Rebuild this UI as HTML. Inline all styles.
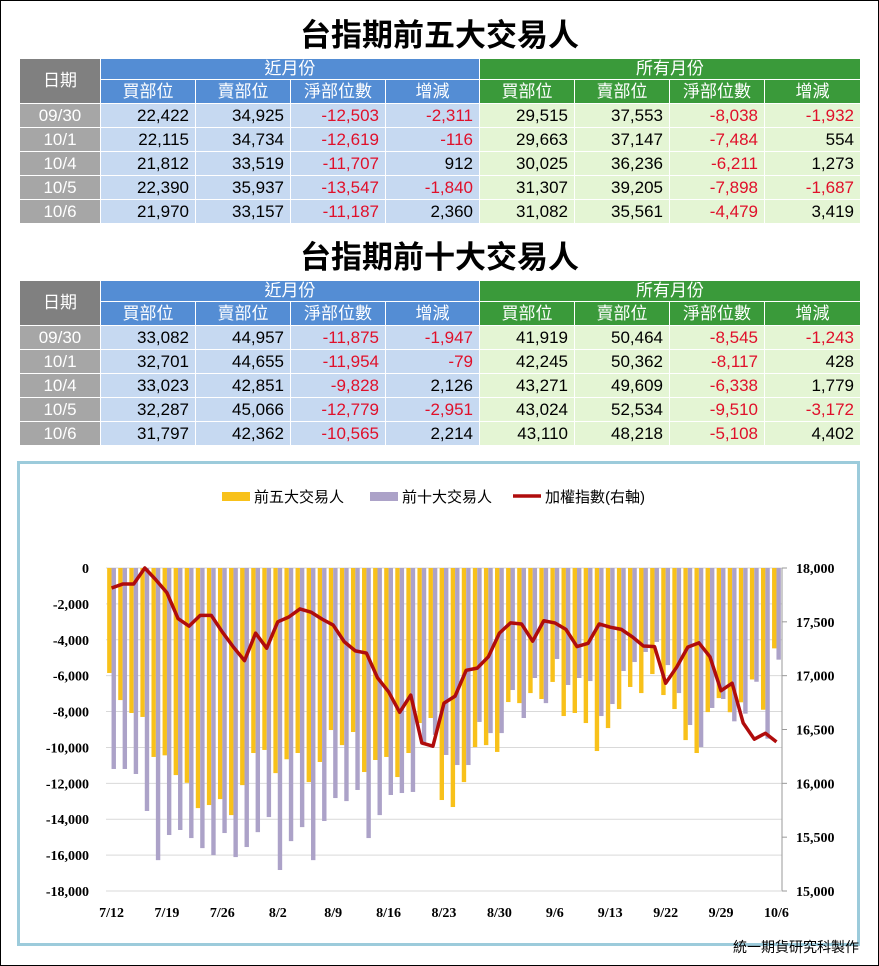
<!DOCTYPE html>
<html><head><meta charset="utf-8">
<style>
*{box-sizing:border-box;margin:0;padding:0}
body{width:879px;height:966px;background:#fff;font-family:"Liberation Sans","Noto Sans CJK TC",sans-serif;position:relative;overflow:hidden}
#frame{position:absolute;left:0;top:0;width:879px;height:966px;border:1px solid #000}
.title{position:absolute;left:0;width:879px;text-align:center;font-size:31px;font-weight:bold;color:#000;line-height:36px;font-family:"Liberation Sans","Noto Sans CJK TC",sans-serif}
table{position:absolute;left:19px;border-collapse:collapse;table-layout:fixed;width:841px}
td{border:1px solid #fff;font-size:17px;height:24px;padding:0 6px;text-align:right;white-space:nowrap;line-height:20px}
td.h{background:#548dd4;color:#fff;text-align:center;font-size:17px}
td.g{background:#3a9a3a;color:#fff;text-align:center;font-size:17px}
td.dh{background:#808080;color:#fff;text-align:center;font-size:17px}
td.d{background:#a6a6a6;color:#fff;text-align:center}
td.b{background:#c6d9f1;color:#000}
td.l{background:#e4f5d4;color:#000}
.r{color:#e0102a!important}
#chartbox{position:absolute;left:17px;top:461px;width:843px;height:485px;border:3px solid #9ccbdb}
#foot{position:absolute;right:20px;top:937px;font-size:14px;color:#000}
</style></head><body>
<div id="frame"></div>
<div class="title" style="top:18px">台指期前五大交易人</div>
<table style="top:58px">
<colgroup><col style="width:81px"><col style="width:95px"><col style="width:95px"><col style="width:95px"><col style="width:94px"><col style="width:95px"><col style="width:95px"><col style="width:95px"><col style="width:96px"></colgroup>
<tr><td class="dh" rowspan="2">日期</td><td class="h" colspan="4" style="height:21px">近月份</td><td class="g" colspan="4" style="height:21px">所有月份</td></tr>
<tr><td class="h" style="height:23px">買部位</td><td class="h">賣部位</td><td class="h">淨部位數</td><td class="h">增減</td><td class="g">買部位</td><td class="g">賣部位</td><td class="g">淨部位數</td><td class="g">增減</td></tr>
<tr><td class="d">09/30</td><td class="b">22,422</td><td class="b">34,925</td><td class="b r">-12,503</td><td class="b r">-2,311</td><td class="l">29,515</td><td class="l">37,553</td><td class="l r">-8,038</td><td class="l r">-1,932</td></tr>
<tr><td class="d">10/1</td><td class="b">22,115</td><td class="b">34,734</td><td class="b r">-12,619</td><td class="b r">-116</td><td class="l">29,663</td><td class="l">37,147</td><td class="l r">-7,484</td><td class="l">554</td></tr>
<tr><td class="d">10/4</td><td class="b">21,812</td><td class="b">33,519</td><td class="b r">-11,707</td><td class="b">912</td><td class="l">30,025</td><td class="l">36,236</td><td class="l r">-6,211</td><td class="l">1,273</td></tr>
<tr><td class="d">10/5</td><td class="b">22,390</td><td class="b">35,937</td><td class="b r">-13,547</td><td class="b r">-1,840</td><td class="l">31,307</td><td class="l">39,205</td><td class="l r">-7,898</td><td class="l r">-1,687</td></tr>
<tr><td class="d">10/6</td><td class="b">21,970</td><td class="b">33,157</td><td class="b r">-11,187</td><td class="b">2,360</td><td class="l">31,082</td><td class="l">35,561</td><td class="l r">-4,479</td><td class="l">3,419</td></tr>
</table>
<div class="title" style="top:240px">台指期前十大交易人</div>
<table style="top:280px">
<colgroup><col style="width:81px"><col style="width:95px"><col style="width:95px"><col style="width:95px"><col style="width:94px"><col style="width:95px"><col style="width:95px"><col style="width:95px"><col style="width:96px"></colgroup>
<tr><td class="dh" rowspan="2">日期</td><td class="h" colspan="4" style="height:21px">近月份</td><td class="g" colspan="4" style="height:21px">所有月份</td></tr>
<tr><td class="h" style="height:23px">買部位</td><td class="h">賣部位</td><td class="h">淨部位數</td><td class="h">增減</td><td class="g">買部位</td><td class="g">賣部位</td><td class="g">淨部位數</td><td class="g">增減</td></tr>
<tr><td class="d">09/30</td><td class="b">33,082</td><td class="b">44,957</td><td class="b r">-11,875</td><td class="b r">-1,947</td><td class="l">41,919</td><td class="l">50,464</td><td class="l r">-8,545</td><td class="l r">-1,243</td></tr>
<tr><td class="d">10/1</td><td class="b">32,701</td><td class="b">44,655</td><td class="b r">-11,954</td><td class="b r">-79</td><td class="l">42,245</td><td class="l">50,362</td><td class="l r">-8,117</td><td class="l">428</td></tr>
<tr><td class="d">10/4</td><td class="b">33,023</td><td class="b">42,851</td><td class="b r">-9,828</td><td class="b">2,126</td><td class="l">43,271</td><td class="l">49,609</td><td class="l r">-6,338</td><td class="l">1,779</td></tr>
<tr><td class="d">10/5</td><td class="b">32,287</td><td class="b">45,066</td><td class="b r">-12,779</td><td class="b r">-2,951</td><td class="l">43,024</td><td class="l">52,534</td><td class="l r">-9,510</td><td class="l r">-3,172</td></tr>
<tr><td class="d">10/6</td><td class="b">31,797</td><td class="b">42,362</td><td class="b r">-10,565</td><td class="b">2,214</td><td class="l">43,110</td><td class="l">48,218</td><td class="l r">-5,108</td><td class="l">4,402</td></tr>
</table>
<div id="chartbox"></div>
<svg id="chart" width="879" height="966" style="position:absolute;left:0;top:0"></svg>
<div id="foot">統一期貨研究科製作</div>
<script>
const xLabels=["7/12","7/19","7/26","8/2","8/9","8/16","8/23","8/30","9/6","9/13","9/22","9/29","10/6"];
const top5=[-5850,-7360,-8080,-8300,-10530,-10440,-11540,-11970,-13380,-13210,-12880,-13770,-12100,-10310,-10140,-11430,-10660,-10310,-11930,-10810,-9030,-9870,-9140,-11370,-10700,-10530,-11650,-10310,-8640,-8360,-12930,-13320,-11930,-9980,-9870,-10250,-7470,-7530,-6970,-7300,-6350,-8250,-8080,-8640,-10200,-8920,-7860,-6630,-6970,-5910,-7080,-7860,-9590,-10310,-8030,-7250,-8038,-7484,-6211,-7898,-4479];
const top10=[-11200,-11200,-11480,-13540,-16280,-14880,-14600,-15050,-15610,-16000,-14770,-16110,-15550,-14720,-13880,-16830,-15220,-14440,-16280,-14100,-12820,-12990,-12370,-15050,-13770,-12650,-12540,-12480,-9870,-9300,-10420,-10980,-10980,-8580,-9200,-9200,-6800,-8360,-6130,-7530,-5070,-6520,-6130,-6300,-8250,-7580,-5740,-5240,-4680,-4120,-5410,-6970,-8750,-9980,-7800,-7300,-8545,-8117,-6338,-9510,-5108];
const taiex=[17814,17851,17851,18000,17890,17770,17530,17460,17560,17560,17405,17265,17140,17395,17255,17500,17545,17620,17590,17525,17470,17315,17230,17210,16980,16850,16660,16820,16375,16345,16745,16810,17050,17070,17175,17395,17490,17480,17320,17510,17490,17430,17270,17300,17480,17450,17430,17360,17275,17270,16930,17080,17265,17305,17175,16860,16930,16560,16410,16465,16385];
const leftTicks=[0,-2000,-4000,-6000,-8000,-10000,-12000,-14000,-16000,-18000];
const rightTicks=[18000,17500,17000,16500,16000,15500,15000];
const NS="http://www.w3.org/2000/svg";
const svg=document.getElementById('chart');
const X0=106,X1=782,Y0=568,Y1=891;
const n=top5.length,bw=(X1-X0)/n;
const yL=v=>Y0+(-v)/18000*(Y1-Y0);
const yR=v=>Y0+(18000-v)/3000*(Y1-Y0);
const xC=i=>X0+bw*(i+0.5);
function mk(t,a,p){const e=document.createElementNS(NS,t);for(const k in a)e.setAttribute(k,a[k]);(p||svg).appendChild(e);return e;}
leftTicks.forEach(v=>{
  const g=mk('line',{x1:X0,x2:X1,y1:yL(v),y2:yL(v),stroke:'#d9d9d9','stroke-width':1});
  
  
  const t=mk('text',{x:89,y:yL(v)+5,'text-anchor':'end','font-size':14,'font-weight':'bold','font-family':'Liberation Serif,serif'});
  t.textContent=v.toLocaleString('en-US');
  
  
});
rightTicks.forEach(v=>{
  const t=mk('text',{x:796,y:yR(v)+5,'text-anchor':'start','font-size':14,'font-weight':'bold','font-family':'Liberation Serif,serif'});
  t.textContent=v.toLocaleString('en-US');
  
  
  const k=mk('line',{x1:X1,x2:X1+5,y1:yR(v),y2:yR(v),stroke:'#999'});
  
  
});
for(let i=0;i<n;i++){
  const b1=mk('rect',{x:xC(i)-4.4,y:Y0,width:4.4,height:yL(top5[i])-Y0,fill:'#f8c11a'});
  
  
  const b2=mk('rect',{x:xC(i),y:Y0,width:4.4,height:yL(top10[i])-Y0,fill:'#aca2c8'});
  
  
}
const ax=mk('line',{x1:X1,x2:X1,y1:Y0,y2:Y1,stroke:'#999'});


const ax2=mk('line',{x1:X0,x2:X1,y1:Y1,y2:Y1,stroke:'#d9d9d9'});


const ln=mk('polyline',{points:taiex.map((v,i)=>xC(i)+','+yR(v)).join(' '),fill:'none',stroke:'#b00c0c','stroke-width':3.5,'stroke-linejoin':'round'});


xLabels.forEach((s,j)=>{
  const t=mk('text',{x:xC(j*5),y:917,'text-anchor':'middle','font-size':14,'font-weight':'bold','font-family':'Liberation Serif,serif'});
  t.textContent=s;
  
  
});
const legend=[["rect","#f8c11a","前五大交易人",222],["rect","#aca2c8","前十大交易人",370],["line","#b00c0c","加權指數(右軸)",513]];
legend.forEach(l=>{
  let s;
  if(l[0]=="rect")s=mk('rect',{x:l[3],y:492,width:28,height:9,fill:l[1]});
  else s=mk('line',{x1:l[3],x2:l[3]+28,y1:496,y2:496,stroke:l[1],'stroke-width':3.5});
  
  
  const t=mk('text',{x:l[3]+32,y:502,'font-size':15,'font-family':'Liberation Sans,Noto Sans CJK TC,sans-serif'});
  t.textContent=l[2];
  
  
});
</script>
</body></html>
